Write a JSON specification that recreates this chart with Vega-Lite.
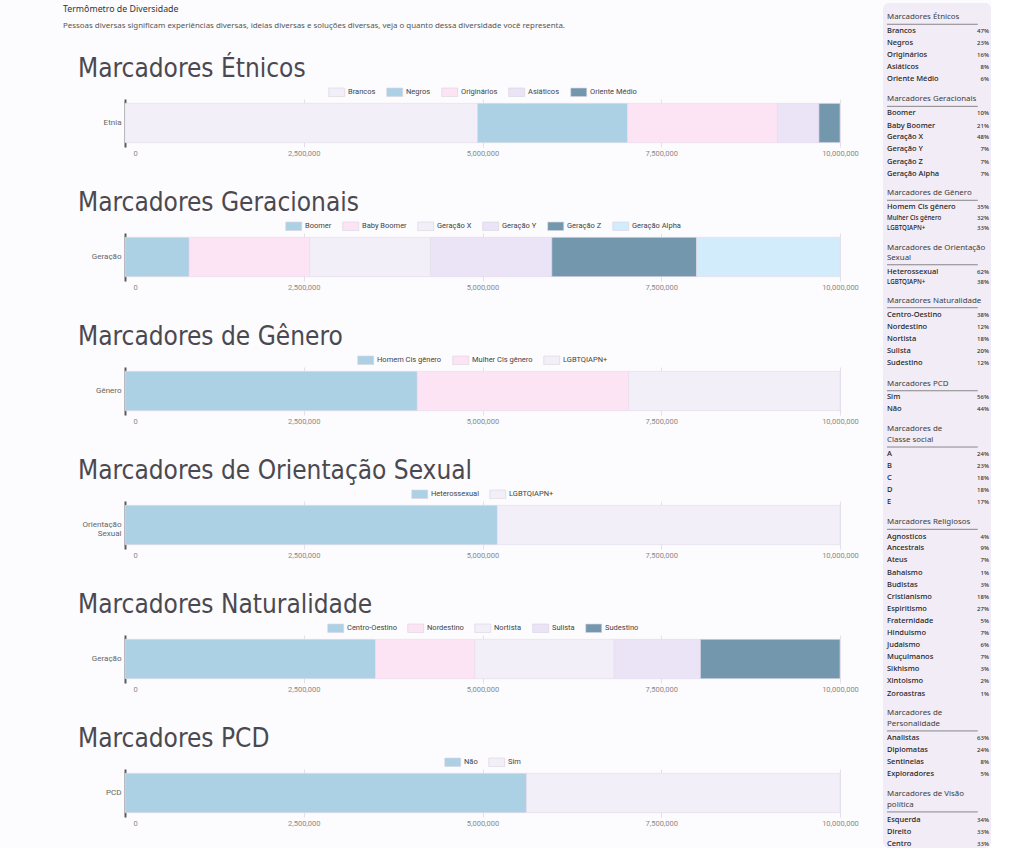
{
  "$schema": "https://vega.github.io/schema/vega-lite/v6.json",
  "background": "#fcfbfd",
  "padding": {"left": 63, "top": 3, "right": 0, "bottom": 0},
  "datasets": {
    "cabecalho": [
      {"texto": "Termômetro de Diversidade", "nivel": "titulo", "linha": 0.6},
      {"texto": "Pessoas diversas significam experiências diversas, ideias diversas e soluções diversas, veja o quanto dessa diversidade você representa.", "nivel": "subtitulo", "linha": 2.3}
    ],
    "etnia": [
      {"grupo": "Etnia", "categoria": "Brancos", "valor": 4930000, "ordem": 1},
      {"grupo": "Etnia", "categoria": "Negros", "valor": 2100000, "ordem": 2},
      {"grupo": "Etnia", "categoria": "Originários", "valor": 2095000, "ordem": 3},
      {"grupo": "Etnia", "categoria": "Asiáticos", "valor": 580000, "ordem": 4},
      {"grupo": "Etnia", "categoria": "Oriente Médio", "valor": 295000, "ordem": 5}
    ],
    "geracao": [
      {"grupo": "Geração", "categoria": "Boomer", "valor": 898000, "ordem": 1},
      {"grupo": "Geração", "categoria": "Baby Boomer", "valor": 1684000, "ordem": 2},
      {"grupo": "Geração", "categoria": "Geração X", "valor": 1690000, "ordem": 3},
      {"grupo": "Geração", "categoria": "Geração Y", "valor": 1697000, "ordem": 4},
      {"grupo": "Geração", "categoria": "Geração Z", "valor": 2027000, "ordem": 5},
      {"grupo": "Geração", "categoria": "Geração Alpha", "valor": 2004000, "ordem": 6}
    ],
    "genero": [
      {"grupo": "Gênero", "categoria": "Homem Cis gênero", "valor": 4088000, "ordem": 1},
      {"grupo": "Gênero", "categoria": "Mulher Cis gênero", "valor": 2957000, "ordem": 2},
      {"grupo": "Gênero", "categoria": "LGBTQIAPN+", "valor": 2955000, "ordem": 3}
    ],
    "orientacao": [
      {"grupo": "Orientação Sexual", "categoria": "Heterossexual", "valor": 5208000, "ordem": 1},
      {"grupo": "Orientação Sexual", "categoria": "LGBTQIAPN+", "valor": 4792000, "ordem": 2}
    ],
    "naturalidade": [
      {"grupo": "Geração", "categoria": "Centro-Oestino", "valor": 3503000, "ordem": 1},
      {"grupo": "Geração", "categoria": "Nordestino", "valor": 1390000, "ordem": 2},
      {"grupo": "Geração", "categoria": "Nortista", "valor": 1947000, "ordem": 3},
      {"grupo": "Geração", "categoria": "Sulista", "valor": 1208000, "ordem": 4},
      {"grupo": "Geração", "categoria": "Sudestino", "valor": 1952000, "ordem": 5}
    ],
    "pcd": [
      {"grupo": "PCD", "categoria": "Não", "valor": 5618000, "ordem": 1},
      {"grupo": "PCD", "categoria": "Sim", "valor": 4382000, "ordem": 2}
    ],
    "lista": [
      {"texto": "Marcadores Étnicos", "tipo": "titulo", "linha": 1.19, "sublinhar": true},
      {"texto": "Brancos", "tipo": "item", "linha": 2.36, "pct": 0.47},
      {"texto": "Negros", "tipo": "item", "linha": 3.36, "pct": 0.23},
      {"texto": "Originários", "tipo": "item", "linha": 4.36, "pct": 0.16},
      {"texto": "Asiáticos", "tipo": "item", "linha": 5.36, "pct": 0.08},
      {"texto": "Oriente Médio", "tipo": "item", "linha": 6.36, "pct": 0.06},
      {"texto": "Marcadores Geracionais", "tipo": "titulo", "linha": 8.03, "sublinhar": true},
      {"texto": "Boomer", "tipo": "item", "linha": 9.19, "pct": 0.10},
      {"texto": "Baby Boomer", "tipo": "item", "linha": 10.23, "pct": 0.21},
      {"texto": "Geração X", "tipo": "item", "linha": 11.19, "pct": 0.48},
      {"texto": "Geração Y", "tipo": "item", "linha": 12.19, "pct": 0.07},
      {"texto": "Geração Z", "tipo": "item", "linha": 13.23, "pct": 0.07},
      {"texto": "Geração Alpha", "tipo": "item", "linha": 14.23, "pct": 0.07},
      {"texto": "Marcadores de Gênero", "tipo": "titulo", "linha": 15.86, "sublinhar": true},
      {"texto": "Homem Cis gênero", "tipo": "item", "linha": 17.03, "pct": 0.35},
      {"texto": "Mulher Cis gênero", "tipo": "item_menor", "linha": 17.94, "pct": 0.32},
      {"texto": "LGBTQIAPN+", "tipo": "item_menor", "linha": 18.78, "pct": 0.33},
      {"texto": "Marcadores de Orientação", "tipo": "titulo", "linha": 20.44},
      {"texto": "Sexual", "tipo": "titulo", "linha": 21.23, "sublinhar": true},
      {"texto": "Heterossexual", "tipo": "item", "linha": 22.39, "pct": 0.62},
      {"texto": "LGBTQIAPN+", "tipo": "item_menor", "linha": 23.28, "pct": 0.38},
      {"texto": "Marcadores Naturalidade", "tipo": "titulo", "linha": 24.81, "sublinhar": true},
      {"texto": "Centro-Oestino", "tipo": "item", "linha": 26.03, "pct": 0.38},
      {"texto": "Nordestino", "tipo": "item", "linha": 27.03, "pct": 0.12},
      {"texto": "Nortista", "tipo": "item", "linha": 28.03, "pct": 0.18},
      {"texto": "Sulista", "tipo": "item", "linha": 29.03, "pct": 0.20},
      {"texto": "Sudestino", "tipo": "item", "linha": 30.03, "pct": 0.12},
      {"texto": "Marcadores PCD", "tipo": "titulo", "linha": 31.73, "sublinhar": true},
      {"texto": "Sim", "tipo": "item", "linha": 32.86, "pct": 0.56},
      {"texto": "Não", "tipo": "item", "linha": 33.83, "pct": 0.44},
      {"texto": "Marcadores de", "tipo": "titulo", "linha": 35.53},
      {"texto": "Classe social", "tipo": "titulo", "linha": 36.42, "sublinhar": true},
      {"texto": "A", "tipo": "item", "linha": 37.58, "pct": 0.24},
      {"texto": "B", "tipo": "item", "linha": 38.56, "pct": 0.23},
      {"texto": "C", "tipo": "item", "linha": 39.56, "pct": 0.18},
      {"texto": "D", "tipo": "item", "linha": 40.56, "pct": 0.18},
      {"texto": "E", "tipo": "item", "linha": 41.56, "pct": 0.17},
      {"texto": "Marcadores Religiosos", "tipo": "titulo", "linha": 43.28, "sublinhar": true},
      {"texto": "Agnosticos", "tipo": "item", "linha": 44.47, "pct": 0.04},
      {"texto": "Ancestrais", "tipo": "item", "linha": 45.44, "pct": 0.09},
      {"texto": "Ateus", "tipo": "item", "linha": 46.42, "pct": 0.07},
      {"texto": "Bahaismo", "tipo": "item", "linha": 47.5, "pct": 0.01},
      {"texto": "Budistas", "tipo": "item", "linha": 48.47, "pct": 0.03},
      {"texto": "Cristianismo", "tipo": "item", "linha": 49.47, "pct": 0.18},
      {"texto": "Espiritismo", "tipo": "item", "linha": 50.47, "pct": 0.27},
      {"texto": "Fraternidade", "tipo": "item", "linha": 51.47, "pct": 0.05},
      {"texto": "Hinduismo", "tipo": "item", "linha": 52.47, "pct": 0.07},
      {"texto": "Judaismo", "tipo": "item", "linha": 53.5, "pct": 0.06},
      {"texto": "Muçulmanos", "tipo": "item", "linha": 54.53, "pct": 0.07},
      {"texto": "Sikhismo", "tipo": "item", "linha": 55.5, "pct": 0.03},
      {"texto": "Xintoismo", "tipo": "item", "linha": 56.53, "pct": 0.02},
      {"texto": "Zoroastras", "tipo": "item", "linha": 57.56, "pct": 0.01},
      {"texto": "Marcadores de", "tipo": "titulo", "linha": 59.19},
      {"texto": "Personalidade", "tipo": "titulo", "linha": 60.08, "sublinhar": true},
      {"texto": "Analistas", "tipo": "item", "linha": 61.28, "pct": 0.63},
      {"texto": "Diplomatas", "tipo": "item", "linha": 62.28, "pct": 0.24},
      {"texto": "Sentinelas", "tipo": "item", "linha": 63.28, "pct": 0.08},
      {"texto": "Exploradores", "tipo": "item", "linha": 64.28, "pct": 0.05},
      {"texto": "Marcadores de Visão", "tipo": "titulo", "linha": 65.94},
      {"texto": "política", "tipo": "titulo", "linha": 66.83, "sublinhar": true},
      {"texto": "Esquerda", "tipo": "item", "linha": 68.06, "pct": 0.34},
      {"texto": "Direito", "tipo": "item", "linha": 69.06, "pct": 0.33},
      {"texto": "Centro", "tipo": "item", "linha": 70.06, "pct": 0.33}
    ]
  },
  "hconcat": [
    {
      "spacing": 26,
      "vconcat": [
        {
          "width": 715, "height": 26,
          "data": {"name": "cabecalho"},
          "layer": [
            {
              "transform": [{"filter": "datum.nivel == 'titulo'"}],
              "mark": {"type": "text", "align": "left", "baseline": "middle", "font": "Noto Sans", "fontSize": 8.8, "color": "#333333"},
              "encoding": {
                "x": {"datum": 0, "type": "quantitative", "scale": {"domain": [0, 1], "range": [-62, 715], "nice": false}, "axis": null},
                "y": {"field": "linha", "type": "quantitative", "scale": {"domain": [0, 2.6], "reverse": true, "nice": false, "zero": false}, "axis": null},
                "text": {"field": "texto"}
              }
            },
            {
              "transform": [{"filter": "datum.nivel == 'subtitulo'"}],
              "mark": {"type": "text", "align": "left", "baseline": "middle", "font": "Noto Sans", "fontSize": 7.9, "color": "#555555"},
              "encoding": {
                "x": {"datum": 0, "type": "quantitative"},
                "y": {"field": "linha", "type": "quantitative"},
                "text": {"field": "texto"}
              }
            }
          ]
        },
        {
          "spacing": 33,
          "resolve": {"scale": {"color": "independent", "x": "independent"}},
          "vconcat": [
            {
              "title": "Marcadores Étnicos",
              "width": 715, "height": 48,
              "data": {"name": "etnia"},
              "mark": "bar",
              "encoding": {
                "y": {"field": "grupo", "type": "nominal", "scale": {"paddingInner": 0.1, "paddingOuter": 0.1}},
                "x": {"field": "valor", "type": "quantitative", "stack": "zero", "scale": {"domain": [0, 10000000]}, "axis": {"values": [0, 2500000, 5000000, 7500000, 10000000], "labelExpr": "format(datum.value, ',')", "labelFlush": false, "labelOffset": {"condition": {"test": "datum.value == 0", "value": 10}, "value": 0}}},
                "color": {"field": "categoria", "type": "nominal",
                  "scale": {"domain": ["Brancos", "Negros", "Originários", "Asiáticos", "Oriente Médio"], "range": ["#f3eff8", "#acd0e4", "#fde4f4", "#ebe3f6", "#7398ae"]}},
                "order": {"field": "ordem", "type": "quantitative"}
              }
            },
            {
              "title": "Marcadores Geracionais",
              "width": 715, "height": 48,
              "data": {"name": "geracao"},
              "mark": "bar",
              "encoding": {
                "y": {"field": "grupo", "type": "nominal", "scale": {"paddingInner": 0.1, "paddingOuter": 0.1}},
                "x": {"field": "valor", "type": "quantitative", "stack": "zero", "scale": {"domain": [0, 10000000]}, "axis": {"values": [0, 2500000, 5000000, 7500000, 10000000], "labelExpr": "format(datum.value, ',')", "labelFlush": false, "labelOffset": {"condition": {"test": "datum.value == 0", "value": 10}, "value": 0}}},
                "color": {"field": "categoria", "type": "nominal",
                  "scale": {"domain": ["Boomer", "Baby Boomer", "Geração X", "Geração Y", "Geração Z", "Geração Alpha"], "range": ["#acd0e4", "#fde4f4", "#f3eff8", "#ebe3f6", "#7398ae", "#d3ecfb"]}},
                "order": {"field": "ordem", "type": "quantitative"}
              }
            },
            {
              "title": "Marcadores de Gênero",
              "width": 715, "height": 48,
              "data": {"name": "genero"},
              "mark": "bar",
              "encoding": {
                "y": {"field": "grupo", "type": "nominal", "scale": {"paddingInner": 0.1, "paddingOuter": 0.1}},
                "x": {"field": "valor", "type": "quantitative", "stack": "zero", "scale": {"domain": [0, 10000000]}, "axis": {"values": [0, 2500000, 5000000, 7500000, 10000000], "labelExpr": "format(datum.value, ',')", "labelFlush": false, "labelOffset": {"condition": {"test": "datum.value == 0", "value": 10}, "value": 0}}},
                "color": {"field": "categoria", "type": "nominal",
                  "scale": {"domain": ["Homem Cis gênero", "Mulher Cis gênero", "LGBTQIAPN+"], "range": ["#acd0e4", "#fde4f4", "#f3eff8"]}},
                "order": {"field": "ordem", "type": "quantitative"}
              }
            },
            {
              "title": "Marcadores de Orientação Sexual",
              "width": 715, "height": 48,
              "data": {"name": "orientacao"},
              "mark": "bar",
              "encoding": {
                "y": {"field": "grupo", "type": "nominal", "scale": {"paddingInner": 0.1, "paddingOuter": 0.1}, "axis": {"labelExpr": "split(datum.label, ' ')", "labelLineHeight": 9}},
                "x": {"field": "valor", "type": "quantitative", "stack": "zero", "scale": {"domain": [0, 10000000]}, "axis": {"values": [0, 2500000, 5000000, 7500000, 10000000], "labelExpr": "format(datum.value, ',')", "labelFlush": false, "labelOffset": {"condition": {"test": "datum.value == 0", "value": 10}, "value": 0}}},
                "color": {"field": "categoria", "type": "nominal",
                  "scale": {"domain": ["Heterossexual", "LGBTQIAPN+"], "range": ["#acd0e4", "#f3eff8"]}},
                "order": {"field": "ordem", "type": "quantitative"}
              }
            },
            {
              "title": "Marcadores Naturalidade",
              "width": 715, "height": 48,
              "data": {"name": "naturalidade"},
              "mark": "bar",
              "encoding": {
                "y": {"field": "grupo", "type": "nominal", "scale": {"paddingInner": 0.1, "paddingOuter": 0.1}},
                "x": {"field": "valor", "type": "quantitative", "stack": "zero", "scale": {"domain": [0, 10000000]}, "axis": {"values": [0, 2500000, 5000000, 7500000, 10000000], "labelExpr": "format(datum.value, ',')", "labelFlush": false, "labelOffset": {"condition": {"test": "datum.value == 0", "value": 10}, "value": 0}}},
                "color": {"field": "categoria", "type": "nominal",
                  "scale": {"domain": ["Centro-Oestino", "Nordestino", "Nortista", "Sulista", "Sudestino"], "range": ["#acd0e4", "#fde4f4", "#f3eff8", "#ebe3f6", "#7398ae"]}},
                "order": {"field": "ordem", "type": "quantitative"}
              }
            },
            {
              "title": "Marcadores PCD",
              "width": 715, "height": 48,
              "data": {"name": "pcd"},
              "mark": "bar",
              "encoding": {
                "y": {"field": "grupo", "type": "nominal", "scale": {"paddingInner": 0.1, "paddingOuter": 0.1}},
                "x": {"field": "valor", "type": "quantitative", "stack": "zero", "scale": {"domain": [0, 10000000]}, "axis": {"values": [0, 2500000, 5000000, 7500000, 10000000], "labelExpr": "format(datum.value, ',')", "labelFlush": false, "labelOffset": {"condition": {"test": "datum.value == 0", "value": 10}, "value": 0}}},
                "color": {"field": "categoria", "type": "nominal",
                  "scale": {"domain": ["Não", "Sim"], "range": ["#acd0e4", "#f3eff8"]}},
                "order": {"field": "ordem", "type": "quantitative"}
              }
            }
          ]
        }
      ]
    },
    {
      "width": 108, "height": 845,
      "view": {"fill": "#f1ecf6", "stroke": null, "cornerRadius": 6},
      "data": {"name": "lista"},
      "layer": [
        {
          "transform": [{"filter": "datum.tipo == 'titulo'"}],
          "mark": {"type": "text", "align": "left", "baseline": "middle", "font": "Noto Sans", "fontSize": 7.9, "color": "#3d3d3d"},
          "encoding": {
            "x": {"datum": 0, "type": "quantitative", "scale": {"domain": [0, 1], "range": [4, 106], "nice": false}, "axis": null},
            "y": {"field": "linha", "type": "quantitative", "scale": {"domain": [0, 70.42], "reverse": true, "nice": false, "zero": false}, "axis": null},
            "text": {"field": "texto"}
          }
        },
        {
          "transform": [{"filter": "datum.sublinhar == true"}],
          "mark": {"type": "rule", "color": "#6d6d6d", "strokeWidth": 0.8},
          "encoding": {
            "x": {"datum": 0, "type": "quantitative"},
            "x2": {"datum": 0.89},
            "y": {"field": "linha", "type": "quantitative"},
            "yOffset": {"value": 7}
          }
        },
        {
          "transform": [{"filter": "datum.tipo == 'item'"}],
          "mark": {"type": "text", "align": "left", "baseline": "middle", "font": "Noto Sans", "fontSize": 7.5, "fontWeight": 500, "color": "#1e1e1e"},
          "encoding": {
            "x": {"datum": 0, "type": "quantitative"},
            "y": {"field": "linha", "type": "quantitative"},
            "text": {"field": "texto"}
          }
        },
        {
          "transform": [{"filter": "datum.tipo == 'item_menor'"}],
          "mark": {"type": "text", "align": "left", "baseline": "middle", "font": "Noto Sans", "fontSize": 6.2, "fontWeight": 500, "color": "#1e1e1e"},
          "encoding": {
            "x": {"datum": 0, "type": "quantitative"},
            "y": {"field": "linha", "type": "quantitative"},
            "text": {"field": "texto"}
          }
        },
        {
          "transform": [{"filter": "isValid(datum.pct)"}],
          "mark": {"type": "text", "align": "right", "baseline": "middle", "font": "Noto Sans", "fontSize": 6, "fontWeight": 500, "color": "#333333"},
          "encoding": {
            "x": {"datum": 1, "type": "quantitative"},
            "y": {"field": "linha", "type": "quantitative"},
            "text": {"field": "pct", "type": "quantitative", "format": ".0%"}
          }
        }
      ]
    }
  ],
  "spacing": 24,
  "config": {
    "view": {"stroke": null},
    "font": "Roboto",
    "title": {"anchor": "start", "frame": "group", "dx": -47, "font": "Liberation Sans Narrow, DejaVu Sans Condensed, Roboto", "fontSize": 26, "fontWeight": "normal", "color": "#4b4950", "offset": 5},
    "axisX": {"grid": true, "gridColor": "#e3e0e8", "domain": false, "ticks": false, "labelFontSize": 7.5, "labelColor": "#8a8a8a", "labelPadding": 2, "title": null, "labelFont": "Liberation Sans Narrow, Roboto"},
    "axisY": {"domainColor": "#5a5a5a", "domainWidth": 2, "ticks": false, "labelFontSize": 8, "labelColor": "#666666", "labelPadding": 4, "title": null, "labelFont": "Liberation Sans Narrow, Roboto"},
    "legend": {"orient": "top", "direction": "horizontal", "title": null, "labelFontSize": 7.5, "labelColor": "#444444", "labelFont": "Liberation Sans Narrow, Roboto", "symbolType": "M-1,-1H2.76V1H-1Z", "symbolSize": 72, "symbolStrokeColor": "#d9d4df", "symbolStrokeWidth": 0.5, "symbolOpacity": 1, "columnPadding": 9, "labelOffset": 10, "offset": 1, "layout": {"anchor": "middle", "top": {"anchor": "middle"}}},
    "bar": {"stroke": "#e6dcec", "strokeWidth": 0.6}
  }
}
